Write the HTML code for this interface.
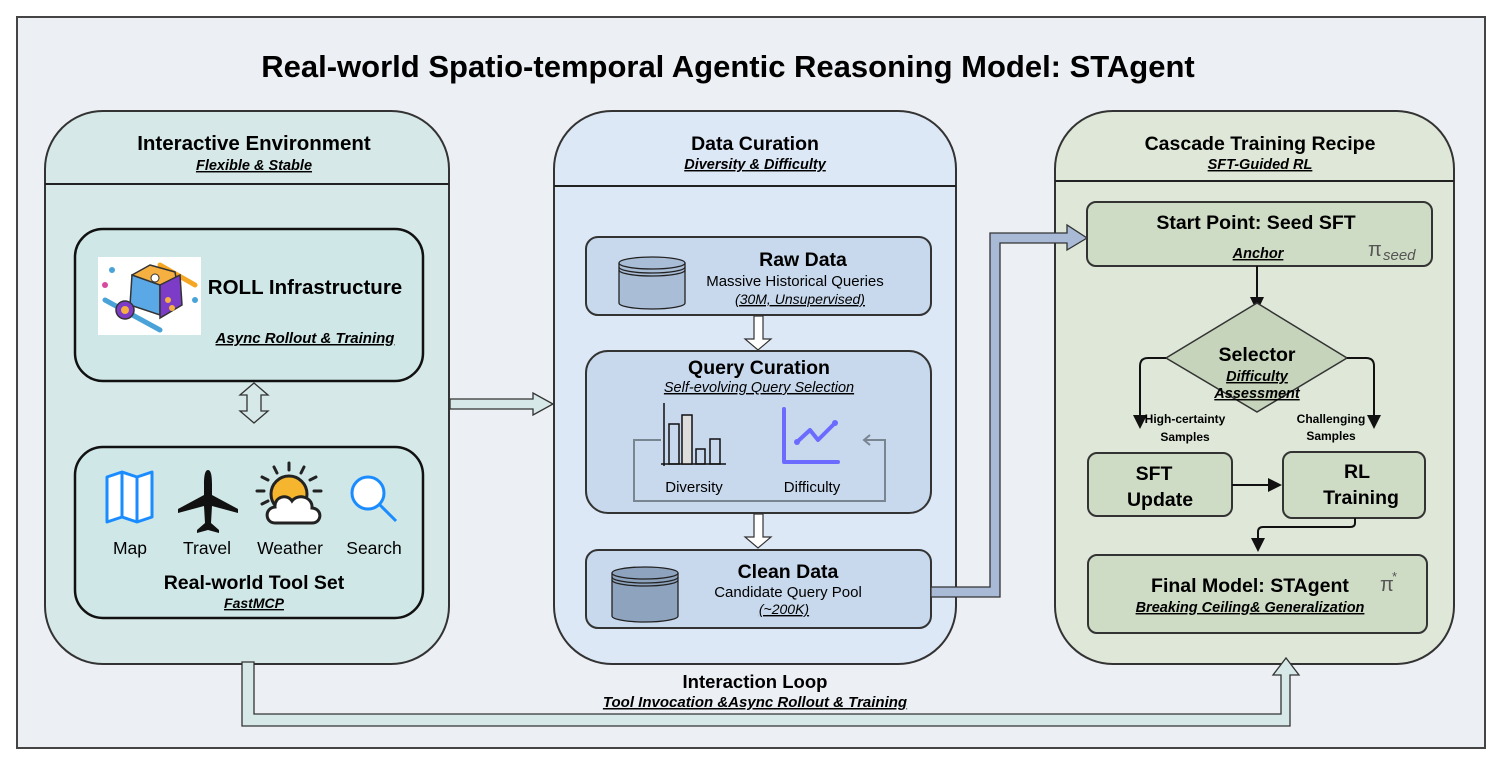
<!DOCTYPE html>
<html><head><meta charset="utf-8"><style>
html,body{margin:0;padding:0;background:#fff;}
svg{display:block;}
text{font-family:"Liberation Sans",Arial,sans-serif;}
.b{font-weight:bold;}
.i{font-style:italic;}
</style></head><body>
<svg width="1500" height="772" viewBox="0 0 1500 772" xmlns="http://www.w3.org/2000/svg">
<rect x="0" y="0" width="1500" height="772" fill="#fff"/>
<rect x="17" y="17" width="1468" height="731" fill="#eceff3" stroke="#444" stroke-width="2"/>
<text x="728" y="77" text-anchor="middle" class="b" font-size="31">Real-world Spatio-temporal Agentic Reasoning Model: STAgent</text>

<!-- Left panel -->
<rect x="45" y="111" width="404" height="553" rx="58" fill="#d6e8e7" stroke="#333" stroke-width="2"/>
<line x1="45" y1="184" x2="449" y2="184" stroke="#222" stroke-width="2"/>
<text x="254" y="150" text-anchor="middle" class="b" font-size="20.5">Interactive Environment</text>
<text x="254" y="170" text-anchor="middle" class="b i" font-size="14.5" text-decoration="underline">Flexible &amp; Stable</text>

<rect x="75" y="229" width="348" height="152" rx="28" fill="#cfe7e6" stroke="#111" stroke-width="2.5"/>
<rect x="98" y="257" width="103" height="78" fill="#fff"/>
<g>
 <circle cx="112" cy="270" r="3" fill="#4aa3d8"/><circle cx="105" cy="285" r="3" fill="#d84aa0"/><circle cx="195" cy="300" r="3" fill="#4aa3d8"/>
 <line x1="105" y1="300" x2="160" y2="330" stroke="#4aa3d8" stroke-width="5" stroke-linecap="round"/>
 <line x1="160" y1="265" x2="195" y2="285" stroke="#f5a623" stroke-width="5" stroke-linecap="round"/>
 <polygon points="150,265 175,272 180,300 160,312 135,300 132,275" fill="#f5b041" stroke="#333" stroke-width="1.5"/>
 <polygon points="132,275 160,285 160,315 130,305" fill="#5aa9e6" stroke="#333" stroke-width="1.5"/>
 <polygon points="160,285 180,275 182,305 160,318" fill="#7d3cc8" stroke="#333" stroke-width="1.5"/>
 <circle cx="125" cy="310" r="9" fill="#7d3cc8" stroke="#333" stroke-width="1.5"/>
 <circle cx="125" cy="310" r="4" fill="#f5b041"/>
 <circle cx="155" cy="278" r="4" fill="#fff" stroke="#333"/><circle cx="168" cy="300" r="3" fill="#f5b041"/><circle cx="172" cy="308" r="3" fill="#f5b041"/>
</g>
<text x="305" y="294" text-anchor="middle" class="b" font-size="20.5">ROLL Infrastructure</text>
<text x="305" y="343" text-anchor="middle" class="b i" font-size="15" text-decoration="underline">Async Rollout &amp; Training</text>

<polygon points="254,383 268,395 261,395 261,411 268,411 254,423 240,411 247,411 247,395 240,395" fill="#d6e8e7" stroke="#333" stroke-width="1.3"/>

<rect x="75" y="447" width="348" height="171" rx="28" fill="#cfe7e6" stroke="#111" stroke-width="2.5"/>
<path d="M107,477 L122,472 L137,477 L152,472 L152,517 L137,522 L122,517 L107,522 Z M122,472 L122,517 M137,477 L137,522" fill="#fff" stroke="#1a8cff" stroke-width="3" stroke-linejoin="round"/>
<path d="M208,470 C211,470 212,476 212,484 L212,495 L238,509 L238,513 L212,506 L211,523 L219,530 L219,533 L208,530 L197,533 L197,530 L205,523 L204,506 L178,513 L178,509 L204,495 L204,484 C204,476 205,470 208,470 Z" fill="#111"/>
<g stroke="#222" stroke-width="3" stroke-linecap="round">
 <line x1="289" y1="463" x2="289" y2="470"/><line x1="274" y1="467" x2="277" y2="473"/><line x1="304" y1="467" x2="301" y2="473"/>
 <line x1="262" y1="477" x2="268" y2="480"/><line x1="316" y1="477" x2="310" y2="480"/>
 <line x1="257" y1="491" x2="264" y2="491"/><line x1="314" y1="491" x2="321" y2="491"/><line x1="262" y1="504" x2="268" y2="501"/>
</g>
<circle cx="289" cy="494" r="18" fill="#f5b52e" stroke="#222" stroke-width="3"/>
<path d="M275,523 C265,523 264,508 275,507 C274,497 287,493 292,501 C298,493 313,497 312,508 C323,509 322,523 312,523 Z" fill="#fff" stroke="#222" stroke-width="3"/>
<circle cx="368" cy="493" r="16" fill="#fff" stroke="#1a8cff" stroke-width="3"/>
<line x1="380" y1="505" x2="396" y2="521" stroke="#1a8cff" stroke-width="3"/>
<text x="130" y="554" text-anchor="middle" font-size="17.5">Map</text>
<text x="207" y="554" text-anchor="middle" font-size="17.5">Travel</text>
<text x="290" y="554" text-anchor="middle" font-size="17.5">Weather</text>
<text x="374" y="554" text-anchor="middle" font-size="17.5">Search</text>
<text x="254" y="589" text-anchor="middle" class="b" font-size="19.5">Real-world Tool Set</text>
<text x="254" y="608" text-anchor="middle" class="b i" font-size="14" text-decoration="underline">FastMCP</text>

<polygon points="450,399 533,399 533,393 553,404 533,415 533,409 450,409" fill="#d6e8e7" stroke="#333" stroke-width="1.3"/>

<!-- Middle panel -->
<rect x="554" y="111" width="402" height="553" rx="58" fill="#dde8f7" stroke="#333" stroke-width="2"/>
<line x1="554" y1="186" x2="956" y2="186" stroke="#222" stroke-width="2"/>
<text x="755" y="150" text-anchor="middle" class="b" font-size="19.5">Data Curation</text>
<text x="755" y="169" text-anchor="middle" class="b i" font-size="14.5" text-decoration="underline">Diversity &amp; Difficulty</text>

<rect x="586" y="237" width="345" height="78" rx="12" fill="#c8d8ed" stroke="#333" stroke-width="2"/>
<g stroke="#222" stroke-width="1.3" fill="#aabdd6">
 <path d="M619,263 L619,303 A33,6 0 0 0 685,303 L685,263"/>
 <ellipse cx="652" cy="263" rx="33" ry="6"/>
 <path d="M619,267 A33,6 0 0 0 685,267 M619,270 A33,6 0 0 0 685,270" fill="none"/>
</g>
<text x="803" y="266" text-anchor="middle" class="b" font-size="19.5">Raw Data</text>
<text x="795" y="286" text-anchor="middle" font-size="15">Massive Historical Queries</text>
<text x="800" y="304" text-anchor="middle" class="i" font-size="14" text-decoration="underline">  (30M, Unsupervised)</text>

<polygon points="754,316 763,316 763,339 771,339 758,350 745,339 754,339" fill="#fff" stroke="#333" stroke-width="1.2"/>

<rect x="586" y="351" width="345" height="162" rx="22" fill="#c8d8ed" stroke="#333" stroke-width="2"/>
<text x="759" y="374" text-anchor="middle" class="b" font-size="19.5">Query Curation</text>
<text x="759" y="392" text-anchor="middle" class="i" font-size="14.5" text-decoration="underline">Self-evolving Query Selection</text>
<polyline points="661,440 634,440 634,501 885,501 885,440 865,440" fill="none" stroke="#7a8592" stroke-width="2"/>
<polyline points="870,435 864,440 870,445" fill="none" stroke="#7a8592" stroke-width="2"/>
<g stroke="#111" stroke-width="1.5" fill="none">
 <line x1="664" y1="403" x2="664" y2="466"/><line x1="661" y1="464" x2="726" y2="464"/>
 <rect x="669" y="424" width="10" height="40"/><rect x="682" y="415" width="10" height="49" fill="#ddd"/>
 <rect x="696" y="449" width="9" height="15"/><rect x="710" y="439" width="10" height="25"/>
</g>
<g stroke="#6b6bff" stroke-width="4" fill="none" stroke-linecap="round" stroke-linejoin="round">
 <polyline points="784,409 784,462 838,462"/>
 <polyline points="797,442 810,430 818,440 835,423"/>
</g>
<circle cx="797" cy="442" r="3" fill="#6b6bff"/><circle cx="835" cy="423" r="3" fill="#6b6bff"/>
<text x="694" y="492" text-anchor="middle" font-size="15">Diversity</text>
<text x="812" y="492" text-anchor="middle" font-size="15">Difficulty</text>

<polygon points="754,514 763,514 763,537 771,537 758,548 745,537 754,537" fill="#fff" stroke="#333" stroke-width="1.2"/>

<rect x="586" y="550" width="345" height="78" rx="12" fill="#c8d8ed" stroke="#333" stroke-width="2"/>
<g stroke="#222" stroke-width="1.3" fill="#8ea3bd">
 <path d="M612,573 L612,616 A33,6 0 0 0 678,616 L678,573"/>
 <ellipse cx="645" cy="573" rx="33" ry="6"/>
 <path d="M612,577 A33,6 0 0 0 678,577 M612,580 A33,6 0 0 0 678,580" fill="none"/>
</g>
<text x="788" y="578" text-anchor="middle" class="b" font-size="19.5">Clean Data</text>
<text x="788" y="597" text-anchor="middle" font-size="15">Candidate Query Pool</text>
<text x="784" y="614" text-anchor="middle" class="i" font-size="14" text-decoration="underline">  (~200K)</text>

<!-- Right panel -->
<rect x="1055" y="111" width="399" height="553" rx="58" fill="#dfe8d8" stroke="#333" stroke-width="2"/>
<line x1="1055" y1="181" x2="1454" y2="181" stroke="#222" stroke-width="2"/>
<text x="1260" y="150" text-anchor="middle" class="b" font-size="19.5">Cascade Training Recipe</text>
<text x="1260" y="169" text-anchor="middle" class="b i" font-size="14.5" text-decoration="underline">SFT-Guided RL</text>

<!-- blue connector (drawn over right panel) -->
<polygon points="931,587 990,587 990,233 1067,233 1067,225 1087,238 1067,250 1067,243 1000,243 1000,597 931,597" fill="#a8bad6" stroke="#333" stroke-width="1.3"/>

<rect x="1087" y="202" width="345" height="64" rx="9" fill="#cfdcc5" stroke="#333" stroke-width="2"/>
<text x="1256" y="229" text-anchor="middle" class="b" font-size="19.5">Start Point: Seed SFT</text>
<text x="1258" y="258" text-anchor="middle" class="b i" font-size="14.5" text-decoration="underline">Anchor</text>
<text x="1368" y="256" font-family="Liberation Serif,serif" font-size="20" fill="#555">π</text>
<text x="1383" y="260" font-family="Liberation Serif,serif" font-size="15" font-style="italic" fill="#555">seed</text>

<line x1="1257" y1="266" x2="1257" y2="300" stroke="#111" stroke-width="2"/>
<polygon points="1250,297 1264,297 1257,312" fill="#111"/>

<polygon points="1257,303 1347,358 1257,412 1166,358" fill="#c6d4bb" stroke="#333" stroke-width="1.5"/>
<text x="1257" y="361" text-anchor="middle" class="b" font-size="19.5">Selector</text>
<text x="1257" y="381" text-anchor="middle" class="b i" font-size="14.5" text-decoration="underline">Difficulty </text>
<text x="1257" y="398" text-anchor="middle" class="b i" font-size="14.5" text-decoration="underline">Assessment</text>

<path d="M1166,358 L1148,358 Q1140,358 1140,366 L1140,418" fill="none" stroke="#111" stroke-width="2"/>
<polygon points="1133,415 1147,415 1140,429" fill="#111"/>
<path d="M1347,358 L1366,358 Q1374,358 1374,366 L1374,418" fill="none" stroke="#111" stroke-width="2"/>
<polygon points="1367,415 1381,415 1374,429" fill="#111"/>
<text x="1185" y="423" text-anchor="middle" class="b" font-size="12">High-certainty</text>
<text x="1185" y="441" text-anchor="middle" class="b" font-size="12">Samples</text>
<text x="1331" y="423" text-anchor="middle" class="b" font-size="12">Challenging</text>
<text x="1331" y="440" text-anchor="middle" class="b" font-size="12">Samples</text>

<rect x="1088" y="453" width="144" height="63" rx="9" fill="#cfdcc5" stroke="#333" stroke-width="2"/>
<text x="1154" y="480" text-anchor="middle" class="b" font-size="19.5">SFT</text>
<text x="1160" y="506" text-anchor="middle" class="b" font-size="19.5">Update</text>
<rect x="1283" y="452" width="142" height="66" rx="9" fill="#cfdcc5" stroke="#333" stroke-width="2"/>
<text x="1357" y="478" text-anchor="middle" class="b" font-size="19.5">RL</text>
<text x="1361" y="504" text-anchor="middle" class="b" font-size="19.5">Training</text>
<line x1="1232" y1="485" x2="1270" y2="485" stroke="#111" stroke-width="2"/>
<polygon points="1268,478 1282,485 1268,492" fill="#111"/>

<path d="M1355,518 L1355,523 Q1355,527 1350,527 L1263,527 Q1258,527 1258,532 L1258,540" fill="none" stroke="#111" stroke-width="2"/>
<polygon points="1251,538 1265,538 1258,552" fill="#111"/>

<rect x="1088" y="555" width="339" height="78" rx="9" fill="#cfdcc5" stroke="#333" stroke-width="2"/>
<text x="1250" y="592" text-anchor="middle" class="b" font-size="19.5">Final Model: STAgent</text>
<text x="1250" y="612" text-anchor="middle" class="b i" font-size="14.5" text-decoration="underline">Breaking  Ceiling&amp; Generalization</text>
<text x="1380" y="591" font-family="Liberation Serif,serif" font-size="20" fill="#555">π</text>
<text x="1392" y="581" font-family="Liberation Serif,serif" font-size="13" fill="#555">*</text>

<!-- bottom loop -->
<polygon points="242,662 254,662 254,714 1281,714 1281,675 1273,675 1286,658 1299,675 1290,675 1290,726 242,726" fill="#d6e8e7" stroke="#333" stroke-width="1.3"/>
<text x="755" y="688" text-anchor="middle" class="b" font-size="18.5">Interaction Loop</text>
<text x="755" y="707" text-anchor="middle" class="b i" font-size="15" text-decoration="underline">Tool Invocation &amp;Async Rollout &amp; Training </text>
</svg>
</body></html>
